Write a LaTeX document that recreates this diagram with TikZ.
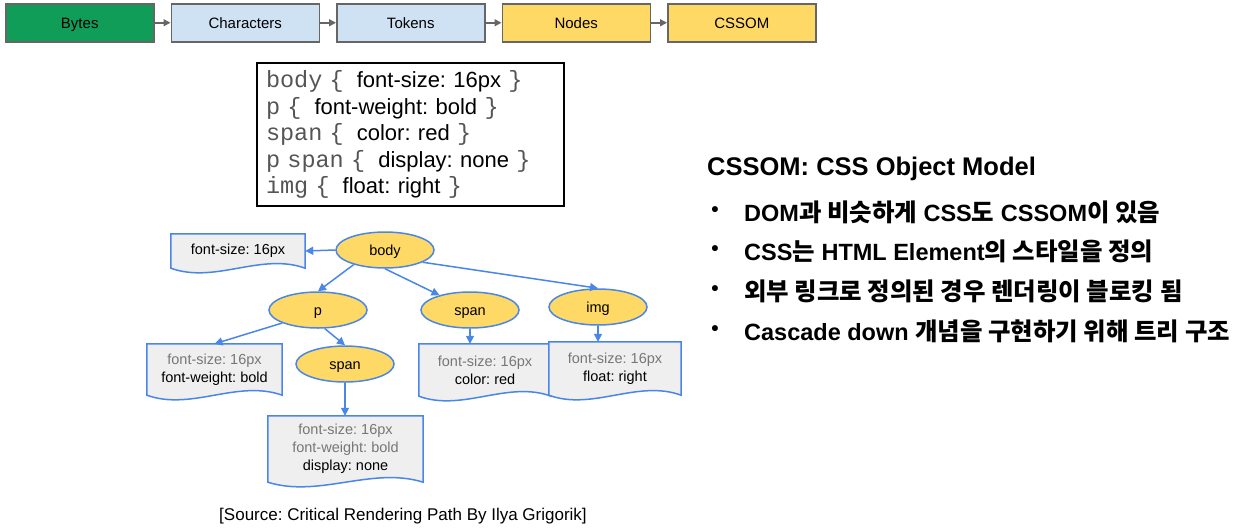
\documentclass[tikz,border=0pt]{standalone}
\usepackage{fontspec}
\setmainfont{Liberation Sans}
\setmonofont{Liberation Mono}
\newfontfamily\krfont{Noto Sans CJK KR}[Scale=1.04]
\usetikzlibrary{arrows.meta}
\usetikzlibrary{backgrounds}
\usetikzlibrary{calc}
\usetikzlibrary{positioning}
\usetikzlibrary{shapes.geometric}

\definecolor{bytesgreen}{HTML}{0F9D58}
\definecolor{stageblue}{HTML}{CFE2F3}
\definecolor{stageyellow}{HTML}{FFD966}
\definecolor{stageline}{HTML}{666666}
\definecolor{treeblue}{HTML}{4A86E8}
\definecolor{treeyellow}{HTML}{FFD966}
\definecolor{propsgray}{HTML}{EFEFEF}
\definecolor{inherited}{HTML}{777777}
\definecolor{codegray}{HTML}{555555}

\frenchspacing
\newcommand\sel[1]{{\ttfamily\fontsize{23.5}{26.5}\selectfont\color{codegray}#1}}
\newcommand\kr[1]{{\krfont #1}}
\newcommand\inh[1]{\textcolor{inherited}{#1}}

\begin{document}
\begin{tikzpicture}[x=1pt,y=-1pt,node distance=16pt,
		stage/.style={draw=stageline,line width=1.5pt,minimum width=148pt,minimum height=38pt,inner sep=0pt,text height=10.7pt,text depth=0pt,font=\fontsize{15}{18}\selectfont},
		flow/.style={-{Triangle[length=7pt,width=7pt]},draw=stageline,line width=1.5pt},
		elem/.style={ellipse,draw=treeblue,line width=1.5pt,fill=treeyellow,minimum width=98pt,minimum height=36pt,inner sep=0pt,text height=10.4pt,text depth=0pt,font=\fontsize{14.5}{17}\selectfont},
		props/.style={align=center,inner sep=0pt,font=\fontsize{14.5}{18}\selectfont},
		docline/.style={draw=treeblue,line width=1.5pt,fill=propsgray},
		link/.style={-{Triangle[length=8pt,width=8pt]},draw=treeblue,line width=1.5pt}]
		\useasboundingbox (0,0) rectangle (1241,531);

		% pipeline
		\node [stage,fill=bytesgreen,anchor=north west] (bytes) at (5,3) {Bytes};
		\node [stage,fill=stageblue,right=of bytes] (chars) {Characters};
		\node [stage,fill=stageblue,right=of chars] (tokens) {Tokens};
		\node [stage,fill=stageyellow,right=of tokens] (nodes) {Nodes};
		\node [stage,fill=stageyellow,right=of nodes] (cssom) {CSSOM};

		\draw [flow] (bytes) -- (chars);
		\draw [flow] (chars) -- (tokens);
		\draw [flow] (tokens) -- (nodes);
		\draw [flow] (nodes) -- (cssom);

		% style sheet
		\node [draw,line width=2pt,minimum width=307pt,minimum height=143pt,text width=289pt,inner xsep=9pt,align=left,font=\fontsize{22}{26.5}\selectfont] (rules) at (410.5,134.5) {%
			\sel{body \{}\hspace{13pt}font-size: 16px \sel{\}}\\
			\sel{p \{}\hspace{13pt}font-weight: bold \sel{\}}\\
			\sel{span \{}\hspace{13pt}color: red \sel{\}}\\
			\sel{p span \{}\hspace{13pt}display: none \sel{\}}\\
			\sel{img \{}\hspace{13pt}float: right \sel{\}}};

		% tree
		\node [elem] (body) at (385,250) {body};
		\node [elem] (p) at (318,310) {p};
		\node [elem] (pspan) at (345,364) {span};
		\node [elem] (span) at (470,310) {span};
		\node [elem] (img) at (598,307) {img};

		\node [props,minimum width=134pt,minimum height=34pt] (bodyprops) at (238,251) {font-size: 16px};
		\node [props,minimum width=135pt,minimum height=51pt] (pprops) at (214.5,369.5) {\inh{font-size: 16px}\\font-weight: bold};
		\node [props,minimum width=132pt,minimum height=52pt] (spanprops) at (485,370) {\inh{font-size: 16px}\\color: red};
		\node [props,minimum width=132pt,minimum height=53pt] (imgprops) at (615,368.5) {\inh{font-size: 16px}\\float: right};
		\node [props,minimum width=155pt,minimum height=66pt] (pspanprops) at (345.5,449) {\inh{font-size: 16px}\\\inh{font-weight: bold}\\display: none};

		\begin{scope}[on background layer]
			\foreach \b in {bodyprops,pprops,spanprops,imgprops,pspanprops}
				\draw [docline] (\b.south west) -- (\b.north west) -- (\b.north east) -- (\b.south east)
					.. controls ($(\b.south east)!0.33!(\b.south west)+(0,-16)$) and ($(\b.south east)!0.67!(\b.south west)+(0,16)$) .. (\b.south west) -- cycle;
		\end{scope}

		\draw [link] (body.west) -- (bodyprops.east);
		\draw [link] (body.205) -- (p.north);
		\draw [link] (body.south) -- (span);
		\draw [link] (body.-18) -- (img.north);
		\draw [link] (p.200) -- (pprops.north);
		\draw [link] (p.-70) -- (pspan.north);
		\draw [link] (pspan.south) -- (pspan.south |- pspanprops.north);
		\draw [link] (span.south) -- (span.south |- spanprops.north);
		\draw [link] (img.south) -- (img.south |- imgprops.north);

		\node [font=\fontsize{17}{20}\selectfont] (source) at (403,516) {[Source: Critical Rendering Path By Ilya Grigorik]};

		% notes
		\node [anchor=west,inner sep=0pt,font=\bfseries\fontsize{25.5}{30}\selectfont] (title) at (707,169) {CSSOM: CSS Object Model};
		\foreach \i/\y/\txt in {1/212/{DOM\kr{과 비슷하게} CSS\kr{도} CSSOM\kr{이 있음}},
				2/251/{CSS\kr{는} HTML Element\kr{의 스타일을 정의}},
				3/291/{\kr{외부 링크로 정의된 경우 렌더링이 블로킹 됨}},
				4/331/{Cascade down \kr{개념을 구현하기 위해 트리 구조}}} {
			\node [font=\bfseries\fontsize{21}{25}\selectfont] (dot\i) at (715,\y) {\textbullet};
			\node [anchor=west,inner sep=0pt,font=\bfseries\fontsize{23.5}{28}\selectfont] (point\i) at (744,\y) {\txt};
		}
\end{tikzpicture}
\end{document}
